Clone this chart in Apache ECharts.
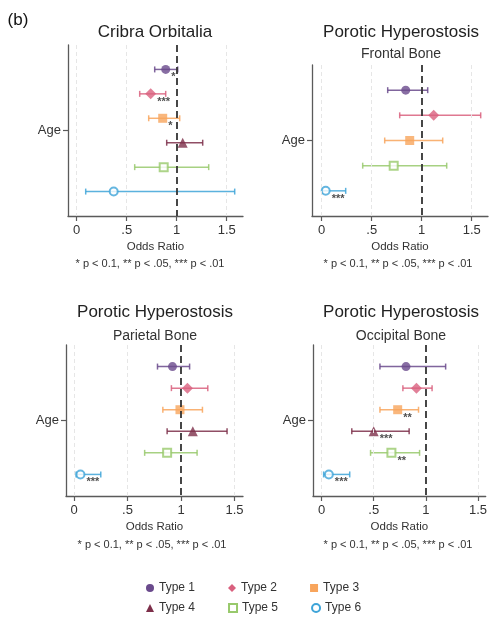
<!DOCTYPE html>
<html>
<head>
<meta charset="utf-8">
<script src="https://cdn.jsdelivr.net/npm/echarts@6/dist/echarts.min.js"></script>
<style>
    html, body { margin: 0; padding: 0; background: #fff; }
    #chartDiv { width: 490px; height: 617px; }
</style>
</head>
<body>
<div id="chartDiv"></div>
<script>
    // 类型、颜色、符号
    var types = ['Type 1', 'Type 2', 'Type 3', 'Type 4', 'Type 5', 'Type 6'];
    var typeColors = ['#6a4a8c', '#d9607e', '#f8a55c', '#7d2f4a', '#98c96c', '#3ea4d8'];
    var typeSymbols = ['circle', 'diamond', 'rect', 'triangle', 'emptyRect', 'emptyCircle'];
    var symbolSizes = [9, 11, 9, 10, 8, 8];

    var xTicks = [0, 0.5, 1, 1.5];

    // Cribra Orbitalia
    var coOR = [0.89, 0.74, 0.86, 1.06, 0.87, 0.37];
    var coLo = [0.78, 0.63, 0.72, 0.90, 0.58, 0.09];
    var coHi = [1.01, 0.89, 1.03, 1.26, 1.32, 1.58];
    var coSig = ['*', '***', '*', '', '', ''];

    // Porotic Hyperostosis - Frontal Bone (no Type 4)
    var frOR = [0.84, 1.12, 0.88, null, 0.72, 0.04];
    var frLo = [0.66, 0.78, 0.63, null, 0.41, 0.01];
    var frHi = [1.06, 1.59, 1.21, null, 1.25, 0.24];
    var frSig = ['', '', '', '', '', '***'];

    // Porotic Hyperostosis - Parietal Bone
    var paOR = [0.92, 1.06, 0.99, 1.11, 0.87, 0.06];
    var paLo = [0.78, 0.91, 0.83, 0.87, 0.66, 0.02];
    var paHi = [1.08, 1.25, 1.20, 1.43, 1.15, 0.25];
    var paSig = ['', '', '', '', '', '***'];

    // Porotic Hyperostosis - Occipital Bone
    var ocOR = [0.81, 0.91, 0.73, 0.50, 0.67, 0.07];
    var ocLo = [0.56, 0.78, 0.56, 0.29, 0.47, 0.02];
    var ocHi = [1.19, 1.06, 0.93, 0.84, 0.94, 0.27];
    var ocSig = ['', '', '**', '***', '**', '***'];

    var panels = [
        {or: coOR, lo: coLo, hi: coHi, sig: coSig, grid: {left: 68, top: 45, width: 175, height: 171}, xMin: -0.087, xMax: 1.663},
        {or: frOR, lo: frLo, hi: frHi, sig: frSig, grid: {left: 312, top: 65, width: 176, height: 151}, xMin: -0.097, xMax: 1.663},
        {or: paOR, lo: paLo, hi: paHi, sig: paSig, grid: {left: 66, top: 345, width: 177, height: 151}, xMin: -0.075, xMax: 1.579},
        {or: ocOR, lo: ocLo, hi: ocHi, sig: ocSig, grid: {left: 313, top: 345, width: 175, height: 151}, xMin: -0.082, xMax: 1.574}
    ];

    var FONT = "'Liberation Sans', Arial, Helvetica, sans-serif";
    var AXIS_COLOR = '#5a5a5a';

    function renderCI(params, api) {
        var y = api.value(0), lo = api.value(1), hi = api.value(2);
        var p1 = api.coord([lo, y]);
        var p2 = api.coord([hi, y]);
        var style = {stroke: api.visual('color'), lineWidth: 1.5, opacity: 0.85};
        return {
            type: 'group',
            children: [
                {type: 'line', shape: {x1: p1[0], y1: p1[1], x2: p2[0], y2: p2[1]}, style: style},
                {type: 'line', shape: {x1: p1[0], y1: p1[1] - 3, x2: p1[0], y2: p1[1] + 3}, style: style},
                {type: 'line', shape: {x1: p2[0], y1: p2[1] - 3, x2: p2[0], y2: p2[1] + 3}, style: style}
            ]
        };
    }

    var grids = [], xAxes = [], yAxes = [], series = [];

    panels.forEach(function (p, pi) {
        grids.push(p.grid);
        var nRows = p.or.filter(function (v) { return v !== null; }).length;
        xAxes.push({
            type: 'value', gridIndex: pi, min: p.xMin, max: p.xMax, position: 'bottom',
            name: 'Odds Ratio', nameLocation: 'middle', nameGap: 25,
            nameTextStyle: {fontFamily: FONT, fontSize: 11.5, color: '#333'},
            axisLine: {show: true, onZero: false, lineStyle: {color: AXIS_COLOR, width: 1.3}},
            axisTick: {show: true, customValues: xTicks, length: 5, lineStyle: {color: AXIS_COLOR, width: 1.2}},
            axisLabel: {
                customValues: xTicks, margin: 8, fontFamily: FONT, fontSize: 13, color: '#333',
                formatter: function (v) { return String(v).replace(/^0\./, '.'); }
            },
            splitLine: {show: false}
        });
        yAxes.push({
            type: 'value', gridIndex: pi, inverse: true, min: 0, max: nRows + 1, position: 'left',
            axisLine: {show: true, onZero: false, lineStyle: {color: AXIS_COLOR, width: 1.3}},
            axisTick: {show: true, customValues: [(nRows + 1) / 2], length: 5, lineStyle: {color: AXIS_COLOR, width: 1.2}},
            axisLabel: {
                customValues: [(nRows + 1) / 2], margin: 7, fontFamily: FONT, fontSize: 13, color: '#333',
                formatter: function () { return 'Age'; }
            },
            splitLine: {show: false}
        });

        // 网格线和参考线
        series.push({
            type: 'scatter', xAxisIndex: pi, yAxisIndex: pi, data: [], silent: true,
            markLine: {
                silent: true, symbol: 'none', label: {show: false}, animation: false,
                data: [
                    {xAxis: 0, lineStyle: {color: '#e6e6e6', type: [4, 3], width: 1}},
                    {xAxis: 0.5, lineStyle: {color: '#e6e6e6', type: [4, 3], width: 1}},
                    {xAxis: 1.5, lineStyle: {color: '#e6e6e6', type: [4, 3], width: 1}},
                    {xAxis: 1, lineStyle: {color: '#333', type: [7, 4], width: 1.8}}
                ]
            }
        });

        var row = 0;
        for (var t = 0; t < types.length; t++) {
            if (p.or[t] === null) continue;
            row++;
            series.push({
                type: 'custom', name: types[t], xAxisIndex: pi, yAxisIndex: pi,
                renderItem: renderCI,
                encode: {x: [1, 2], y: 0},
                itemStyle: {color: typeColors[t]},
                data: [[row, p.lo[t], p.hi[t]]],
                z: 3
            });
            series.push({
                type: 'scatter', name: types[t], xAxisIndex: pi, yAxisIndex: pi,
                symbol: typeSymbols[t], symbolSize: symbolSizes[t],
                itemStyle: {color: typeColors[t], borderWidth: t >= 4 ? 1.5 : 0, borderColor: typeColors[t]},
                label: {
                    show: p.sig[t] !== '', formatter: p.sig[t], position: 'right', distance: 1,
                    offset: [0, 8], color: '#222', fontSize: 11, fontWeight: 'bold', fontFamily: FONT
                },
                data: [[p.or[t], row]],
                z: 4
            });
        }
    });

    function txt(x, y, text, size, color) {
        return {
            type: 'text', x: x, y: y, silent: true,
            style: {text: text, fill: color || '#222', font: size + 'px ' + FONT, align: 'center', verticalAlign: 'middle'}
        };
    }

    var note = '* p < 0.1, ** p < .05, *** p < .01';

    var option = {
        animation: false,
        backgroundColor: '#fff',
        grid: grids,
        xAxis: xAxes,
        yAxis: yAxes,
        series: series,
        legend: [
            {
                left: 146, top: 582, padding: 0, itemWidth: 8, itemHeight: 8, itemGap: 33,
                textStyle: {fontFamily: FONT, fontSize: 12, color: '#333'},
                data: [
                    {name: 'Type 1', icon: 'circle'},
                    {name: 'Type 2', icon: 'diamond'},
                    {name: 'Type 3', icon: 'rect'}
                ]
            },
            {
                left: 146, top: 602, padding: 0, itemWidth: 8, itemHeight: 8, itemGap: 33,
                textStyle: {fontFamily: FONT, fontSize: 12, color: '#333'},
                data: [
                    {name: 'Type 4', icon: 'triangle'},
                    {name: 'Type 5', icon: 'emptyRect', itemStyle: {borderWidth: 1.5}},
                    {name: 'Type 6', icon: 'emptyCircle', itemStyle: {borderWidth: 1.5}}
                ]
            }
        ],
        graphic: [
            txt(18, 20, '(b)', 17, '#111'),
            txt(155, 32, 'Cribra Orbitalia', 17),
            txt(401, 32, 'Porotic Hyperostosis', 17),
            txt(401, 54, 'Frontal Bone', 14, '#333'),
            txt(155, 312, 'Porotic Hyperostosis', 17),
            txt(155, 336, 'Parietal Bone', 14, '#333'),
            txt(401, 312, 'Porotic Hyperostosis', 17),
            txt(401, 336, 'Occipital Bone', 14, '#333'),
            txt(150, 264, note, 11, '#333'),
            txt(398, 264, note, 11, '#333'),
            txt(152, 545, note, 11, '#333'),
            txt(398, 545, note, 11, '#333')
        ]
    };

    var chart = echarts.init(document.getElementById('chartDiv'));
    chart.setOption(option);
</script>
</body>
</html>
